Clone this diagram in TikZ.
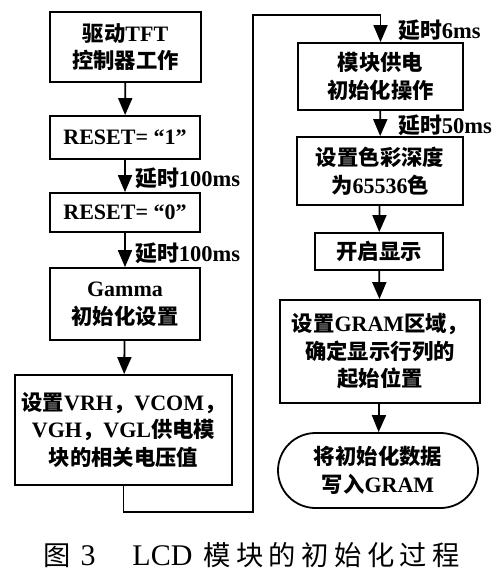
\documentclass[tikz,border=0pt]{standalone}
\usepackage{fontspec}
\setmainfont{Liberation Serif}
\newfontfamily\zhfont[Scale=0.97]{Noto Sans CJK SC}
\newfontfamily\zhcap[Scale=1.05]{Noto Sans CJK SC}
\newcommand\zh[1]{{\zhfont #1}}
\usetikzlibrary{arrows.meta,shapes.misc}
\tikzset{
  box/.style={draw, line width=1.8pt, align=center, inner sep=0pt,
    font=\fontsize{22}{27.5}\selectfont\bfseries},
  flow/.style={line width=1.8pt, -{Triangle[width=14pt,length=17pt]}},
  lbl/.style={anchor=west, inner sep=0pt, font=\fontsize{22.5}{27}\selectfont\bfseries},
  capt/.style={anchor=west, inner sep=0pt, font=\fontsize{26}{30}\selectfont}
}
\begin{document}
\begin{tikzpicture}[x=1pt,y=-1pt]
\fill[white] (0,0) rectangle (500,580);
\path[use as bounding box] (0,0) rectangle (500,580);

% left column
\node[box, minimum width=151pt, minimum height=70pt] (b1) at (125.5,47) {\zh{驱动}TFT\\\zh{控制器工作}};
\node[box, minimum width=150pt, minimum height=43pt] (b2) at (125,137.5) {RESET= “1”};
\node[box, minimum width=150pt, minimum height=39pt] (b3) at (125,212.5) {RESET= “0”};
\node[box, minimum width=150pt, minimum height=72pt] (b4) at (125,304) {Gamma\\\zh{初始化设置}};
\node[box, minimum width=217pt, minimum height=110pt] (b5) at (123.5,430)
  {\zh{设置}VRH\zh{，}VCOM\zh{，}\\VGH\zh{，}VGL\zh{供电模}\\\zh{块的相关电压值}};

% right column
\node[box, minimum width=165pt, minimum height=67pt] (b6) at (380.5,76.5) {\zh{模块供电}\\\zh{初始化操作}};
\node[box, minimum width=166pt, minimum height=68pt] (b7) at (380,171) {\zh{设置色彩深度}\\\zh{为}65536\zh{色}};
\node[box, minimum width=128pt, minimum height=37pt] (b8) at (379,251.5) {\zh{开启显示}};
\node[box, minimum width=200pt, minimum height=103pt] (b9) at (380,351.5)
  {\zh{设置}GRAM\zh{区域，}\\\zh{确定显示行列的}\\\zh{起始位置}};
\node[box, rounded rectangle, minimum width=200pt, minimum height=75pt] (b10) at (378,470.5)
  {\zh{将初始化数据}\\\zh{写入}GRAM};

% connectors
\draw[flow] (b1) -- (b2);
\draw[flow] (b2) -- (b3);
\draw[flow] (b3) -- (b4);
\draw[flow] (b4) -- (b5);
\coordinate (c1) at (253,512);
\coordinate (c2) at (253,15);
\draw[flow] (b5.south) |- (c1) -- (c2) -| (b6.north);
\draw[flow] (b6) -- (b7);
\draw[flow] (b7) -- (b8);
\draw[flow] (b8) -- (b9);
\draw[flow] (b9) -- (b10);

% labels
\node[lbl] (l1) at (135,178) {\zh{延时}100ms};
\node[lbl] (l2) at (135,253) {\zh{延时}100ms};
\node[lbl] (l3) at (398,30) {\zh{延时}6ms};
\node[lbl] (l4) at (398,125) {\zh{延时}50ms};

% caption
\node[capt] (cap) at (43,555) {{\zhcap 图}\hspace{10pt}{\fontsize{30}{30}\selectfont 3}\hspace{37pt}{\fontsize{30}{30}\selectfont LCD}\hspace{11pt}{\zhcap 模\hspace{5.4pt}块\hspace{5.4pt}的\hspace{5.4pt}初\hspace{5.4pt}始\hspace{5.4pt}化\hspace{5.4pt}过\hspace{5.4pt}程}};
\end{tikzpicture}
\end{document}
